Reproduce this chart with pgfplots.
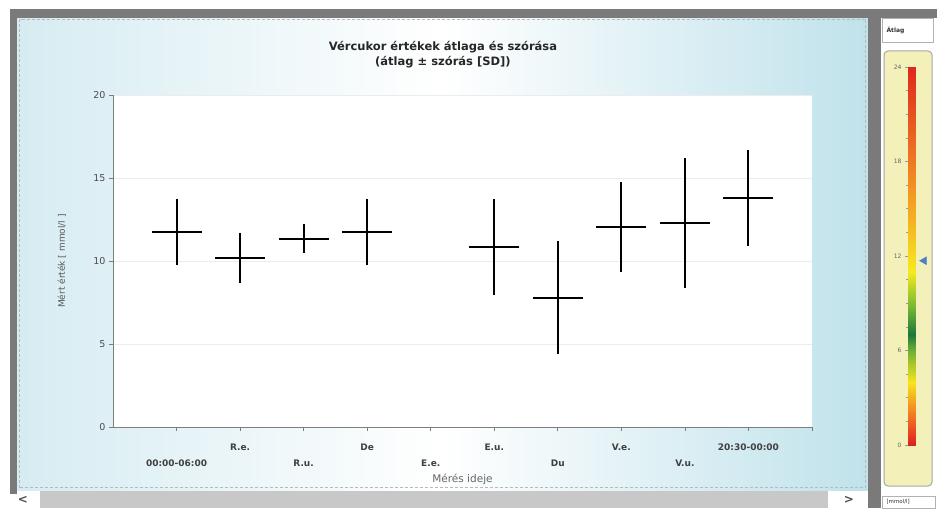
\documentclass[border=0pt]{standalone}
\usepackage{pgfplots}
\pgfplotsset{compat=1.18}
\usepackage{pgfplotstable}
\usepackage{fontspec}
\setmainfont{DejaVu Sans}

\definecolor{frame}{RGB}{122,122,122}
\definecolor{bgL}{RGB}{214,236,242}
\definecolor{bgR}{RGB}{192,226,235}
\definecolor{scroll}{RGB}{200,200,200}
\definecolor{axgray}{RGB}{125,125,125}
\definecolor{gaugebg}{RGB}{244,240,186}
\definecolor{triblue}{RGB}{74,128,196}

\pgfplotstableread{
x mean sd
1 11.75 2.0
2 10.2 1.5
3 11.35 0.85
4 11.75 2.0
6 10.85 2.9
7 7.8 3.4
8 12.05 2.7
9 12.3 3.9
10 13.8 2.9
}\bgdata

\pgfplotstableread{
x y
0 0
1 0
1 24
0 0
1 24
0 24
}\gaugedata

\newcommand{\low}[1]{\raisebox{-16pt}[\height][0pt]{#1}}

\begin{document}
\begin{tikzpicture}[x=1pt,y=1pt]
\fill[white] (0,0) rectangle (941,508);
% main panel background
\shade[left color=bgL, right color=bgR, middle color=white] (17,18) rectangle (868,490);
\fill[frame] (10,490) rectangle (937,499);
\fill[frame] (10,14) rectangle (17,499);
\fill[frame] (868,0) rectangle (881,499);
\draw[gray!55, densely dashed] (19.5,20.5) rectangle (865.5,488.5);
% scrollbar
\fill[scroll] (40,0) rectangle (828,17);
\node[font=\bfseries\fontsize{12}{12}\selectfont, text=black!70] at (23,8) {<};
\node[font=\bfseries\fontsize{12}{12}\selectfont, text=black!70] at (849,8) {>};
% right panel
\draw[gray!60, fill=white] (882,466) rectangle (933,490);
\node[anchor=west, font=\bfseries\fontsize{6}{7}\selectfont, text=black!80] at (883,478) {Átlag};
\draw[gray!70, line width=1pt, rounded corners=4pt, fill=gaugebg] (884,22) rectangle (932,457);
\draw[gray!60, fill=white] (882,0) rectangle (935,12);
\node[anchor=west, font=\fontsize{5.5}{6}\selectfont, text=black!80] at (883,6) {[mmol/l]};

\begin{axis}[
  at={(113pt,81pt)}, anchor=south west, scale only axis,
  width=699pt, height=332pt,
  xmin=0, xmax=11, ymin=0, ymax=20,
  axis x line*=bottom, axis y line*=left,
  axis line style={draw=axgray, line width=0.8pt},
  axis background/.style={fill=white},
  /pgf/number format/assume math mode=true,
  xtick={1,...,10},
  xticklabels={{\low{00:00-06:00}}, R.e., {\low{R.u.}}, De, {\low{E.e.}}, E.u., {\low{Du}}, V.e., {\low{V.u.}}, 20:30-00:00},
  extra x ticks={11}, extra x tick labels={},
  ytick={0,5,10,15,20},
  tick align=outside, major tick length=4pt,
  tick style={draw=axgray, line width=0.8pt},
  ymajorgrids, grid style={draw=gray!15, line width=0.6pt},
  xticklabel style={font=\bfseries\fontsize{9}{10}\selectfont, text=black!75, yshift=-9pt},
  yticklabel style={font=\fontsize{9.5}{10}\selectfont, text=black!70},
  title={Vércukor értékek átlaga és szórása\\(átlag ± szórás [SD])},
  title style={at={(axis description cs:0.472,1)}, anchor=north, yshift=51pt, align=center, font=\bfseries\fontsize{11.5}{15}\selectfont, text=black!85},
  xlabel={Mérés ideje},
  xlabel style={at={(axis description cs:0.5,0)}, anchor=center, yshift=-52pt, font=\fontsize{10.5}{11}\selectfont, text=black!60},
  ylabel={Mért érték [ mmol/l ]},
  ylabel style={at={(axis description cs:-0.073,0.5)}, anchor=center, font=\fontsize{9}{10}\selectfont, text=black!65},
]
\addplot[black, only marks, mark=-, mark size=25pt, mark options={line width=2pt, black},
  error bars/.cd, y dir=both, y explicit, error mark=none,
  error bar style={line width=2pt, black}]
  table[x=x, y=mean, y error=sd] {\bgdata};
\end{axis}

\begin{axis}[
  at={(908pt,63pt)}, anchor=south west, scale only axis,
  width=7pt, height=378pt,
  xmin=0, xmax=1, ymin=0, ymax=24,
  clip=false,
  hide x axis,
  axis y line*=left,
  y axis line style={draw=none},
  /pgf/number format/assume math mode=true,
  ytick={0,6,...,24}, minor y tick num=3,
  tick align=outside, major tick length=3pt, minor tick length=2pt,
  tick style={draw=gray!80, line width=0.5pt},
  yticklabel style={font=\fontsize{6}{7}\selectfont, text=black!60},
  colormap={gaugecm}{rgb255(0cm)=(222,32,32) rgb255(2cm)=(240,125,35) rgb255(4cm)=(246,228,30) rgb255(6cm)=(110,175,50) rgb255(7cm)=(30,120,60) rgb255(9cm)=(130,190,50) rgb255(11cm)=(246,234,30) rgb255(14cm)=(245,182,35) rgb255(18cm)=(238,122,35) rgb255(24cm)=(222,40,30)},
  point meta min=0, point meta max=24,
]
\addplot[patch, shader=interp, point meta=\thisrow{y}] table {\gaugedata};
\addplot[only marks, mark=triangle*, mark size=4.5pt, mark options={rotate=90, fill=triblue, draw=triblue}] coordinates {(2.3,11.7)};
\end{axis}
\end{tikzpicture}
\end{document}
